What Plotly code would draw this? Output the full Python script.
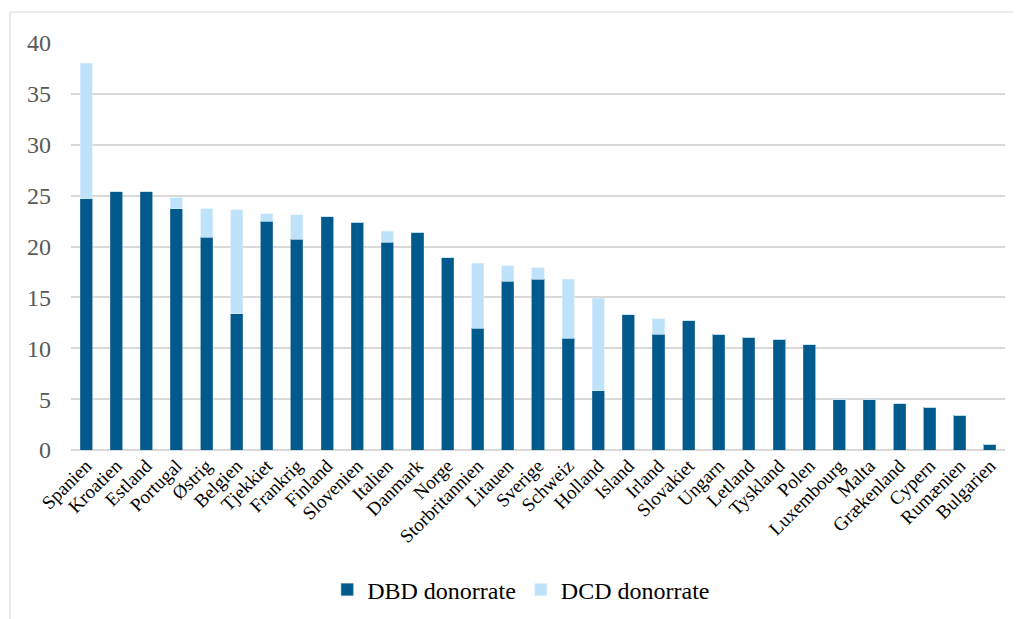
import plotly.graph_objects as go

countries = ["Spanien", "Kroatien", "Estland", "Portugal", "Østrig", "Belgien", "Tjekkiet",
             "Frankrig", "Finland", "Slovenien", "Italien", "Danmark", "Norge", "Storbritannien",
             "Litauen", "Sverige", "Schweiz", "Holland", "Island", "Irland", "Slovakiet", "Ungarn",
             "Letland", "Tyskland", "Polen", "Luxembourg", "Malta", "Grækenland", "Cypern",
             "Rumænien", "Bulgarien"]
dbd = [24.7, 25.4, 25.4, 23.7, 20.9, 13.4, 22.5, 20.7, 22.9, 22.4, 20.4, 21.4, 18.9, 11.95,
       16.6, 16.8, 11.0, 5.8, 13.3, 11.4, 12.7, 11.4, 11.1, 10.9, 10.35, 4.95, 4.95, 4.55, 4.2,
       3.4, 0.55]
dcd = [13.3, 0, 0, 1.1, 2.8, 10.2, 0.7, 2.4, 0, 0, 1.1, 0, 0, 6.4,
       1.5, 1.1, 5.8, 9.1, 0, 1.5, 0, 0, 0, 0, 0, 0, 0, 0, 0, 0, 0]
yticks = [0, 5, 10, 15, 20, 25, 30, 35, 40]

SERIF = "Liberation Serif"

fig = go.Figure()
fig.add_trace(go.Bar(x=countries, y=dbd, name="DBD donorrate",
                     marker=dict(color="#005B8C", line=dict(color="#4F87AD", width=0.6))))
fig.add_trace(go.Bar(x=countries, y=dcd, name="DCD donorrate",
                     marker=dict(color="#BFE2FB", line=dict(color="#D8EEFD", width=0.6))))

fig.update_layout(
    barmode="stack",
    bargap=0.6,
    width=1021, height=619,
    margin=dict(l=63, r=24, t=35, b=177, autoexpand=False),
    paper_bgcolor="white", plot_bgcolor="white",
    font=dict(family=SERIF, color="black"),
    showlegend=True,
    legend=dict(orientation="h", x=0.482, xanchor="center", y=-0.344, yanchor="middle",
                font=dict(family=SERIF, size=24, color="black"), itemwidth=30,
                traceorder="normal"),
    xaxis=dict(tickangle=-45, tickfont=dict(family=SERIF, size=19, color="black"),
               showgrid=False, showline=False, ticks="", automargin=False),
    yaxis=dict(range=[0, 40], tickvals=yticks, ticktext=[str(v) for v in yticks],
               tickfont=dict(family=SERIF, size=24, color="#595959"), showgrid=True,
               gridcolor="#D9D9D9", gridwidth=1.5, zeroline=True, zerolinecolor="#D9D9D9",
               zerolinewidth=1.5, showline=False, ticks="", ticklabelstandoff=19,
               automargin=False),
    shapes=[dict(type="rect", xref="paper", yref="paper",
                 x0=(10 - 71) / 934, x1=(1019 - 71) / 934,
                 y0=-0.6, y1=(450 - 12) / 407,
                 line=dict(color="#D9D9D9", width=1.2), fillcolor="rgba(0,0,0,0)",
                 layer="below")],
)

fig.write_html("out.html")
